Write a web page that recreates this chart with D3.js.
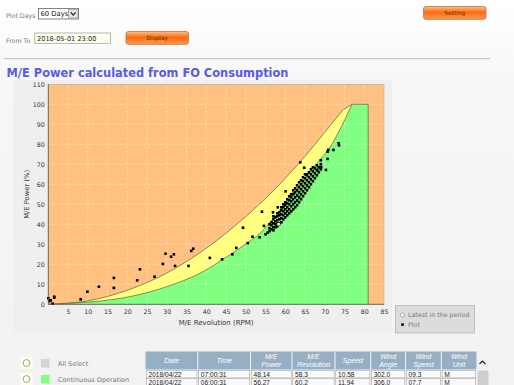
<!DOCTYPE html>
<html>
<head>
<meta charset="utf-8">
<script src="https://cdn.jsdelivr.net/npm/d3@7"></script>
<style>
body { margin:0; background:#fff; overflow:hidden; }
svg { display:block; font-family:"DejaVu Sans", Verdana, sans-serif; }
</style>
</head>
<body>
<svg id="page"></svg>
<script>
// chart values
let rpmTicks = [5,10,15,20,25,30,35,40,45,50,55,60,65,70,75,80,85]
let powerTicks = [0,10,20,30,40,50,60,70,80,90,100,110]

// yellow band limits [rpm, power %]
let upperLimit = [[0,0],[10,1.7],[20,7],[30,15.6],[40,28],[48.6,41.5],[55,53],[60,63],[65,74],[70,86],[74.7,97.4]]
let upperTop = [[74.7,97.4],[76.9,100]]
let lowerLimit = [[0,0],[13,1.6],[21.5,4.2],[30,8.8],[38.4,15.5],[46.9,26],[51,31.5],[53.6,35.5],[57,43],[60,50.5],[64,60.5],[68,70.5],[71,77.5],[74,88],[76.9,100]]
let maxLimit = [[76.9,100],[81,100],[81,0]]

let latestPoint = [58.3, 40]

let scatterPoints = [
  [0,3],[0.3,1.6],[0.6,2],[1.1,0.3],[1.5,3.8],[1.5,3.3],[8.2,2.5],[9.9,6.3],[12.8,8.8],
  [16.6,13.2],[16.6,8.2],[22.5,12],[23.2,17.5],[26.9,13.8],[29,20.2],[29.7,25.3],[31.1,23.8],
  [31.8,25],[32.1,19.2],[35.5,19.2],[36.2,26.7],[36.7,27.8],[40.9,23.2],[44,22.5],[46.6,25],
  [47.6,28.2],[49.3,38.3],[50.5,30.6],[51.7,33.8],[54.1,46.3],[54.6,39.2],[56.9,46],[58.1,48.5],
  [60.1,56.5],[62,55.2],[63.8,71],[64.8,68.3],[65.4,65],[68.1,67.2],[69.1,68.5],[70.3,67.2],
  [70.7,72.7],[70.9,77.2],[72.2,77.2],[73.5,80.5],[73.6,79.5],[69,72],[70.7,76.3],
  [53.5,33.5],[55,35],[55.5,35.8],
  [56,36.5],[56,38],[56,40],[56.5,37.5],[56.5,39.5],[56.5,41],
  [57,37],[57,38.5],[57,40.5],[57,42.5],[57,44],[57.5,38.5],[57.5,40],[57.5,41.5],[57.5,43.5],
  [58,39],[58,40.5],[58,42],[58,44],[58,45.5],[58.5,40.5],[58.5,42.5],[58.5,44.5],[58.5,46],
  [59,41],[59,43],[59,45],[59,47],[59,48.5],[59.5,42.5],[59.5,44.5],[59.5,46.5],[59.5,48.5],[59.5,50],
  [60,43.5],[60,45.5],[60,47.5],[60,49.5],[60,51],[60.5,44.5],[60.5,46.5],[60.5,48.5],[60.5,50.5],[60.5,52.5],
  [61,45.5],[61,47.5],[61,50],[61,52],[61,54],[61.5,46.5],[61.5,49],[61.5,51.5],[61.5,53.5],[61.5,55],
  [62,47.5],[62,50],[62,52.5],[62,55],[62,57],[62.5,48.5],[62.5,51],[62.5,53.5],[62.5,56],[62.5,58],
  [63,49.5],[63,52],[63,54.5],[63,57],[63,59.5],[63.5,51],[63.5,53.5],[63.5,56],[63.5,58.5],[63.5,61],
  [64,52.5],[64,55],[64,57.5],[64,60],[64,62],[64.5,54],[64.5,56.5],[64.5,59],[64.5,61.5],[64.5,63.5],
  [65,55.5],[65,58],[65,60.5],[65,63],[65,65],[65.5,57],[65.5,59.5],[65.5,62],[65.5,64.5],
  [66,58.5],[66,61],[66,63.5],[66,66],[66.5,60],[66.5,62.5],[66.5,65],[66.5,67.5],
  [67,61.5],[67,64],[67,66.5],[67,68.5],[67.5,63],[67.5,65.5],[67.5,68],
  [68,64.5],[68,67],[68,69.5],[68.5,66],[68.5,68.5],[69,67.5],[69,70]
]

let listItems = ["All Select", "Continuous Operation"]
let listColors = ["#d4d4d4", "#80ff80"]

let tableHeaders = [["Date"],["Time"],["M/E","Power"],["M/E","Revolution"],["Speed"],["Wind","Angle"],["Wind","Speed"],["Wind","Unit"]]
let tableRows = [
  ["2018/04/22","07:00:31","48.14","58.3","10.58","302.0","09.3","M"],
  ["2018/04/22","06:00:31","56.27","60.2","11.94","306.0","07.7","M"]
]

let width = 514
let height = 385

let svg = d3.select('#page').attr('width', width).attr('height', height)

let defs = svg.append('defs')

let pageGrad = defs.append('linearGradient').attr('id','pageGrad').attr('x1',0).attr('x2',0).attr('y1',0).attr('y2',1)
pageGrad.append('stop').attr('offset','0%').attr('stop-color','#ffffff')
pageGrad.append('stop').attr('offset','22%').attr('stop-color','#f7f7f7')
pageGrad.append('stop').attr('offset','100%').attr('stop-color','#f2f2f2')

let btnGrad = defs.append('linearGradient').attr('id','btnGrad').attr('x1',0).attr('x2',0).attr('y1',0).attr('y2',1)
btnGrad.append('stop').attr('offset','0%').attr('stop-color','#ffc08a')
btnGrad.append('stop').attr('offset','45%').attr('stop-color','#ff6a10')
btnGrad.append('stop').attr('offset','100%').attr('stop-color','#ff9a50')

let drawPage = () => {
    svg.append('rect').attr('width', width).attr('height', height).attr('fill', 'url(#pageGrad)')

    let label = (x, y, t) => svg.append('text').attr('x', x).attr('y', y)
        .attr('font-size', 6.3).attr('fill', '#777').text(t)

    label(6, 17.5, 'Plot Days')
    svg.append('rect').attr('x', 38.5).attr('y', 8.5).attr('width', 40).attr('height', 10.5)
       .attr('fill', '#fff').attr('stroke', '#666').attr('stroke-width', 0.8)
    svg.append('text').attr('x', 40.5).attr('y', 16.3).attr('font-size', 6.8).attr('fill', '#111').text('60 Days')
    svg.append('rect').attr('x', 68.5).attr('y', 9.5).attr('width', 9.5).attr('height', 8.5)
       .attr('fill', '#e4e4e4').attr('stroke', '#888').attr('stroke-width', 0.6)
    svg.append('path').attr('d', 'M70.8,12.3 L73.2,15.2 L75.6,12.3').attr('fill', 'none')
       .attr('stroke', '#222').attr('stroke-width', 1.1)

    label(6, 43, 'From To')
    svg.append('rect').attr('x', 34.8).attr('y', 33).attr('width', 75.8).attr('height', 10.3)
       .attr('fill', '#ffffee').attr('stroke', '#999').attr('stroke-width', 0.7)
    svg.append('text').attr('x', 37).attr('y', 41).attr('font-size', 6.6).attr('fill', '#222').text('2018-05-01 23:00')

    let button = (x, y, w, h, t) => {
        svg.append('rect').attr('x', x).attr('y', y).attr('width', w).attr('height', h)
           .attr('rx', 2.5).attr('fill', 'url(#btnGrad)').attr('stroke', '#b8743a').attr('stroke-width', 0.8)
        svg.append('text').attr('x', x + w / 2).attr('y', y + h / 2 + 2).attr('text-anchor', 'middle')
           .attr('font-size', 5.8).attr('fill', '#6a3000').text(t)
    }
    button(423.5, 6.5, 62.5, 12.8, 'Setting')
    button(126, 31.5, 62.5, 12.8, 'Display')

    svg.append('line').attr('x1', 4).attr('x2', 490).attr('y1', 58.7).attr('y2', 58.7)
       .attr('stroke', '#a8a8a8').attr('stroke-width', 0.8)

    svg.append('text').attr('x', 6.5).attr('y', 76.5).attr('font-size', 12.5).attr('font-weight', 'bold')
       .attr('fill', '#5a5ae6').attr('textLength', 282).attr('lengthAdjust', 'spacingAndGlyphs')
       .text('M/E Power calculated from FO Consumption')
}

let x, y
let px0 = 48.3, px1 = 384, py0 = 304.3, py1 = 84.3

let generateScales = () => {
    x = d3.scaleLinear().domain([0, 85]).range([px0, px1])
    y = d3.scaleLinear().domain([0, 110]).range([py0, py1])
}

let drawChart = () => {
    svg.append('rect').attr('x', 13).attr('y', 80).attr('width', 379).attr('height', 253)
       .attr('fill', '#efefef')

    let plot = svg.append('g')
    plot.append('rect').attr('x', px0).attr('y', py1).attr('width', px1 - px0).attr('height', py0 - py1)
        .attr('fill', '#ffc080')

    let curveLine = d3.line().x(d => x(d[0])).y(d => y(d[1])).curve(d3.curveCatmullRom.alpha(0.5))
    let straight = pts => pts.map(d => 'L' + x(d[0]) + ',' + y(d[1])).join('')

    // yellow: under upper limit
    let upperPath = curveLine(upperLimit) + straight(upperTop)
    let top = upperTop[upperTop.length - 1]
    plot.append('path')
        .attr('d', upperPath + 'L' + x(top[0]) + ',' + y(0) + 'Z')
        .attr('fill', '#ffff80')

    // green: under lower limit, out to max rpm
    plot.append('path').attr('d', curveLine(lowerLimit) + straight(maxLimit) + 'Z').attr('fill', '#80ff80')

    // grid
    let grid = plot.append('g').attr('stroke', '#ffffff').attr('stroke-opacity', 0.75)
        .attr('stroke-width', 0.6).attr('stroke-dasharray', '2,2')
    grid.selectAll('.vg').data(rpmTicks.slice(0, -1)).enter().append('line')
        .attr('x1', d => x(d)).attr('x2', d => x(d)).attr('y1', py0).attr('y2', py1)
    grid.selectAll('.hg').data(powerTicks.slice(1, -1)).enter().append('line')
        .attr('y1', d => y(d)).attr('y2', d => y(d)).attr('x1', px0).attr('x2', px1)

    // limit outlines
    let edge = '#6e6e48'
    plot.append('path').attr('d', upperPath).attr('fill', 'none').attr('stroke', edge).attr('stroke-width', 0.8)
    plot.append('path').attr('d', curveLine(lowerLimit) + straight(maxLimit)).attr('fill', 'none')
        .attr('stroke', edge).attr('stroke-width', 0.8)

    plot.append('rect').attr('x', px0).attr('y', py1).attr('width', px1 - px0).attr('height', py0 - py1)
        .attr('fill', 'none').attr('stroke', '#b0b0b0').attr('stroke-width', 0.6)

    // points
    plot.selectAll('.pt').data(scatterPoints).enter().append('rect')
        .attr('x', d => x(d[0]) - 1.3).attr('y', d => y(d[1]) - 1.3)
        .attr('width', 2.6).attr('height', 2.6).attr('fill', '#000')
    plot.append('rect').attr('x', x(latestPoint[0]) - 1.5).attr('y', y(latestPoint[1]) - 1.5)
        .attr('width', 3).attr('height', 3).attr('fill', '#fff').attr('stroke', '#000').attr('stroke-width', 0.4)
}

let generateAxes = () => {
    let xAxis = d3.axisBottom(x).tickValues(rpmTicks).tickSize(0).tickPadding(5)
    let yAxis = d3.axisLeft(y).tickValues(powerTicks).tickSize(0).tickPadding(3.5)

    let gx = svg.append('g').attr('transform', 'translate(0,' + py0 + ')').call(xAxis)
    let gy = svg.append('g').attr('transform', 'translate(' + px0 + ',0)').call(yAxis)
    ;[gx, gy].forEach(g => {
        g.select('.domain').attr('stroke', '#555').attr('stroke-width', 0.8)
        g.selectAll('text').attr('font-size', 6.3).attr('fill', '#333')
          .attr('font-family', '"DejaVu Sans", Verdana, sans-serif')
    })
    gx.select('.domain').attr('d', 'M' + px0 + ',0H' + px1)
    gy.select('.domain').attr('d', 'M0,' + py0 + 'V' + py1)

    svg.append('text').attr('x', (px0 + px1) / 2).attr('y', 324.5).attr('text-anchor', 'middle')
       .attr('font-size', 7).attr('fill', '#333').text('M/E Revolution (RPM)')
    svg.append('text').attr('transform', 'translate(28.5,' + ((py0 + py1) / 2) + ') rotate(-90)')
       .attr('text-anchor', 'middle').attr('font-size', 6.8).attr('fill', '#333').text('M/E Power (%)')
}

let drawLegend = () => {
    svg.append('rect').attr('x', 395.5).attr('y', 305.5).attr('width', 79).attr('height', 27.5)
       .attr('fill', '#dcdcdc').attr('stroke', '#b4b4b4').attr('stroke-width', 0.8)
    svg.append('circle').attr('cx', 402.5).attr('cy', 315).attr('r', 2)
       .attr('fill', '#fff').attr('stroke', '#666').attr('stroke-width', 0.5)
    svg.append('text').attr('x', 408).attr('y', 317.3).attr('font-size', 6.3).attr('fill', '#777').text('Latest in the period')
    svg.append('rect').attr('x', 401.2).attr('y', 323.3).attr('width', 2.6).attr('height', 2.6).attr('fill', '#000')
    svg.append('text').attr('x', 408).attr('y', 327).attr('font-size', 6.3).attr('fill', '#777').text('Plot')
}

let drawList = () => {
    let rows = svg.selectAll('.li').data(listItems).enter().append('g')
        .attr('transform', (d, i) => 'translate(0,' + (363 + i * 16) + ')')
    rows.append('rect').attr('x', 20.5).attr('y', -6).attr('width', 12).attr('height', 12).attr('fill', '#ffffe8')
    rows.append('circle').attr('cx', 26.5).attr('cy', 0).attr('r', 3.4)
        .attr('fill', '#fff').attr('stroke', '#777').attr('stroke-width', 0.7)
    rows.append('rect').attr('x', 41).attr('y', -4).attr('width', 8.5).attr('height', 8.5)
        .attr('fill', (d, i) => listColors[i])
    rows.append('text').attr('x', 58).attr('y', 2.5).attr('font-size', 6.5).attr('fill', '#777').text(d => d)
}

let drawTable = () => {
    let edges = [145.5, 197.8, 250.5, 292, 335, 370.7, 405.6, 441.3, 476.5]
    let headTop = 351.5, headH = 18, rowH = 7.6

    let head = svg.append('g')
    head.append('rect').attr('x', edges[0]).attr('y', headTop).attr('width', edges[8] - edges[0]).attr('height', headH)
        .attr('fill', '#97afc5')
    head.selectAll('.sep').data(edges.slice(1, -1)).enter().append('line')
        .attr('x1', d => d).attr('x2', d => d).attr('y1', headTop).attr('y2', headTop + headH)
        .attr('stroke', '#f4f4f4').attr('stroke-width', 1)
    tableHeaders.forEach((h, i) => {
        let cx = (edges[i] + edges[i + 1]) / 2
        h.forEach((t, j) => {
            let ty = h.length === 1 ? headTop + 11.8 : headTop + 7.2 + j * 8
            head.append('text').attr('x', cx).attr('y', ty).attr('text-anchor', 'middle')
                .attr('font-family', '"Liberation Sans", Arial, sans-serif').attr('font-style', 'italic')
                .attr('font-size', 7).attr('fill', '#fff').text(t)
        })
    })

    tableRows.forEach((row, r) => {
        let ry = headTop + headH + 0.8 + r * (rowH + 0.6)
        row.forEach((v, i) => {
            svg.append('rect').attr('x', edges[i] + 0.8).attr('y', ry).attr('width', edges[i + 1] - edges[i] - 1.6)
               .attr('height', rowH).attr('fill', '#fafafa').attr('stroke', '#a8a8a8').attr('stroke-width', 0.6)
            svg.append('text').attr('x', edges[i] + 3).attr('y', ry + 6.2)
               .attr('font-family', '"Liberation Sans", Arial, sans-serif').attr('font-size', 6.6)
               .attr('fill', '#222').text(v)
        })
    })

    // scrollbar
    svg.append('path').attr('d', 'M479.5,364 L482.5,361 L485.5,364').attr('fill', 'none')
       .attr('stroke', '#222').attr('stroke-width', 1.2)
    svg.append('rect').attr('x', 477.5).attr('y', 370.5).attr('width', 11).attr('height', 20).attr('fill', '#cfcfcf')
}

drawPage()
generateScales()
drawChart()
generateAxes()
drawLegend()
drawList()
drawTable()
</script>
</body>
</html>
